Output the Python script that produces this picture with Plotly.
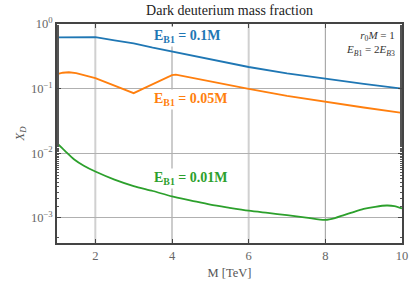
import math
import plotly.graph_objects as go

mass_b = [1, 1.5, 2, 2.5, 3, 3.5, 4, 5, 6, 7, 8, 9, 10]
blue_vals = [0.62, 0.62, 0.625, 0.56, 0.50, 0.43, 0.373, 0.28, 0.216, 0.172, 0.141, 0.118, 0.100]

mass_o = [1, 1.15, 1.31, 1.5, 1.75, 2, 2.25, 2.5, 2.75, 3, 3.25, 3.5, 3.75, 4, 4.1, 4.3, 4.6, 5, 5.5, 6, 7, 8, 9, 10]
orange_vals = [0.167, 0.176, 0.179, 0.173, 0.159, 0.145, 0.127, 0.111, 0.097, 0.085, 0.100, 0.1175, 0.138,
               0.162, 0.165, 0.156, 0.143, 0.128, 0.112, 0.099, 0.077, 0.062, 0.051, 0.042]

mass_g = [1, 1.2, 1.45, 1.7, 2, 2.5, 3, 3.5, 4, 4.5, 5, 5.5, 6, 6.5, 7, 7.5, 8, 8.25, 8.5, 8.75, 9, 9.3, 9.6, 9.8, 10]
green_vals = [0.0143, 0.0110, 0.0080, 0.0064, 0.0052, 0.0039, 0.0031, 0.0026, 0.00214, 0.00185, 0.0016, 0.00143,
              0.00129, 0.00119, 0.0011, 0.00101, 0.00093, 0.00099, 0.00111, 0.00124, 0.00137, 0.00148, 0.00155,
              0.00152, 0.0014]

labels = ["<b>E<sub>B1</sub> = 0.1M</b>", "<b>E<sub>B1</sub> = 0.05M</b>", "<b>E<sub>B1</sub> = 0.01M</b>"]
label_x = [3.48, 3.48, 3.48]
label_y = [0.65, 0.067, 0.004]
colors = ["#1f77b4", "#ff7f0e", "#2ca02c"]

ytick_vals = [1, 0.1, 0.01, 0.001]
ytick_text = ["10<sup>0</sup>", "10<sup>−1</sup>", "10<sup>−2</sup>", "10<sup>−3</sup>"]
xtick_vals = [2, 4, 6, 8, 10]

FONT = "Liberation Serif"

fig = go.Figure()
fig.add_trace(go.Scatter(x=mass_b, y=blue_vals, mode="lines", line=dict(color=colors[0], width=1.8), showlegend=False))
fig.add_trace(go.Scatter(x=mass_o, y=orange_vals, mode="lines", line=dict(color=colors[1], width=1.8), showlegend=False))
fig.add_trace(go.Scatter(x=mass_g, y=green_vals, mode="lines",
                         line=dict(color=colors[2], width=1.8, shape="spline", smoothing=0.8), showlegend=False))

for txt, lx, ly, c in zip(labels, label_x, label_y, colors):
    fig.add_annotation(x=lx, y=math.log10(ly), yref="y", xref="x", text=txt, showarrow=False, xanchor="left",
                       font=dict(family=FONT, size=14, color=c), bgcolor="white", borderpad=1)

fig.add_annotation(x=1, y=1, xref="paper", yref="paper", xanchor="right", yanchor="top", xshift=-5, yshift=-3,
                   text="<i>r</i><sub>0</sub><i>M</i> = 1<br><i>E</i><sub><i>B</i>1</sub> = 2<i>E</i><sub><i>B</i>3</sub>",
                   showarrow=False, align="right", font=dict(family=FONT, size=11, color="#333"))

for gx, col, w in [(2, "#d0d0d0", 2), (6, "#d0d0d0", 2), (4, "#999999", 1), (8, "#999999", 1)]:
    fig.add_shape(type="line", x0=gx, x1=gx, y0=0, y1=1, xref="x", yref="paper",
                  line=dict(color=col, width=w), layer="below")

fig.update_layout(
    width=420, height=289,
    margin=dict(l=57, r=18, t=24, b=46),
    paper_bgcolor="white", plot_bgcolor="white",
    title=dict(text="Dark deuterium mass fraction", x=0.5, xref="paper", y=0.995, yanchor="top",
               font=dict(family=FONT, size=14, color="#222"), pad=dict(t=4)),
    font=dict(family=FONT, color="#555", size=12),
)
fig.update_xaxes(range=[1, 10], tickvals=xtick_vals, showgrid=False, zeroline=False,
                 ticks="inside", ticklen=4, tickwidth=1.2, tickcolor="#444",
                 showline=True, linecolor="#444", linewidth=1.6, mirror="ticks",
                 title=dict(text="M [TeV]", font=dict(family=FONT, size=12.5, color="#555"), standoff=6),
                 tickfont=dict(family=FONT, size=12.5, color="#666"))
fig.update_yaxes(type="log", range=[-3.39, 0], tickvals=ytick_vals, ticktext=ytick_text,
                 showgrid=True, gridcolor="#b0b0b0", gridwidth=1, zeroline=False,
                 ticks="inside", ticklen=4, tickwidth=1.2, tickcolor="#444",
                 minor=dict(ticks="inside", ticklen=2.5, tickcolor="#555", showgrid=False),
                 showline=True, linecolor="#444", linewidth=1.6, mirror="ticks",
                 title=dict(text="<i>X<sub>D</sub></i>", font=dict(family=FONT, size=12.5, color="#555"), standoff=4),
                 tickfont=dict(family=FONT, size=12.5, color="#666"))

fig.write_html("out.html", config={"displayModeBar": False},
               post_script="document.body.style.margin='0';")
